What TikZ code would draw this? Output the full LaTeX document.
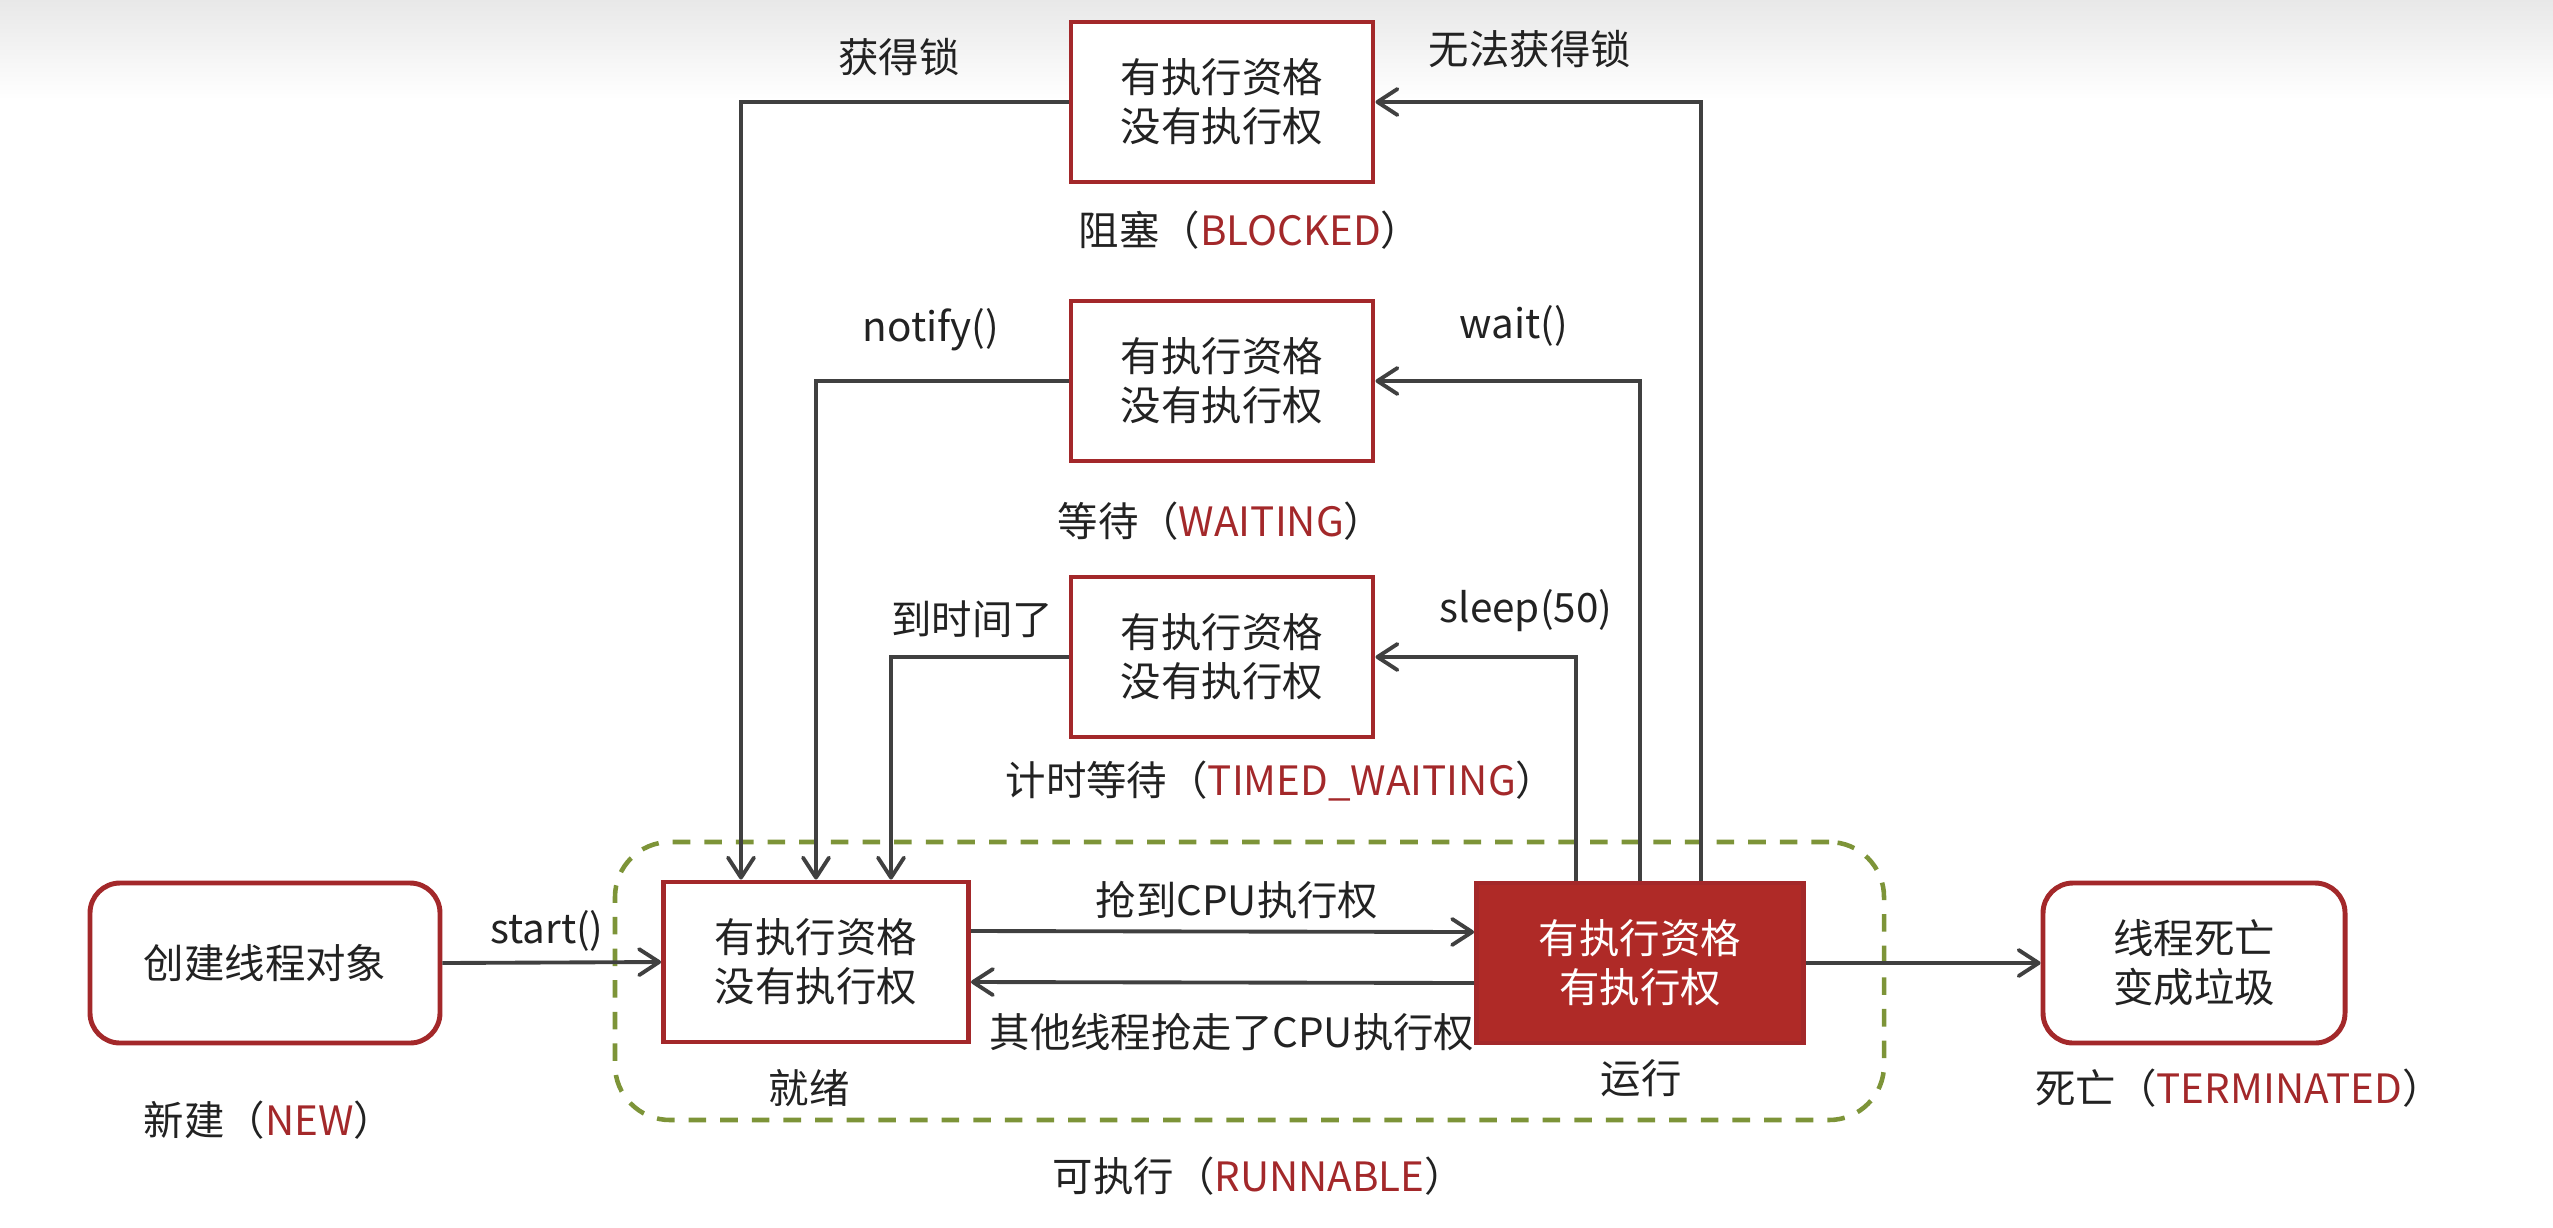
\documentclass[tikz,border=0pt]{standalone}
\usepackage{fontspec}
\setmainfont{Noto Sans CJK SC}
\usepackage{tikz}
\usetikzlibrary{positioning,arrows.meta,calc}
\definecolor{ink}{HTML}{404040}
\definecolor{brick}{HTML}{A3282A}
\definecolor{brickfill}{HTML}{AF2A27}
\definecolor{olive}{HTML}{7D9438}
\definecolor{textgray}{HTML}{222222}

\begin{document}
\begin{tikzpicture}[font=\fontsize{11.5}{14}\selectfont, text=textgray,
  frame/.style={draw=olive, dashed, dash pattern=on 5pt off 4pt, line width=1.3pt, rounded corners=0.55cm},
  state/.style={draw=brick, line width=1.4pt, minimum width=3.02cm, minimum height=1.6cm, align=center, fill=white, inner sep=2pt},
  endstate/.style={state, rounded corners=0.3cm},
  flow/.style={-{Straight Barb[length=2mm,width=2.6mm,round]}, line width=1.1pt, draw=ink},
  en/.style={text=brick}]
  \useasboundingbox (0,0) rectangle (25.53,-12.27);
  \shade[top color=black!9, bottom color=white] (0,0) rectangle (25.53,-1.0);
  \node[frame, minimum width=12.69cm, minimum height=2.78cm] (runnable) at (12.495,-9.81) {};
  \node[state] (blocked) at (12.22,-1.02) {有执行资格\\没有执行权};
  \node[state] (waiting) at (12.22,-3.81) {有执行资格\\没有执行权};
  \node[state] (timed) at (12.22,-6.57) {有执行资格\\没有执行权};
  \node[state, minimum width=3.05cm] (ready) at (8.16,-9.62) {有执行资格\\没有执行权};
  \node[state, minimum width=3.27cm, fill=brickfill, text=white] (running) at (16.40,-9.63) {有执行资格\\有执行权};
  \node[endstate, minimum width=3.5cm] (new) at (2.65,-9.63) {创建线程对象};
  \node[endstate] (dead) at (21.94,-9.63) {线程死亡\\变成垃圾};
  \node (lockget) at (8.99,-0.57) {获得锁};
  \node (locklost) at (15.30,-0.49) {无法获得锁};
  \node (blockedname) at (12.50,-2.30) {阻塞（{\color{brick}BLOCKED}）};
  \node (notifylabel) at (9.31,-3.30) {notify()};
  \node (waitlabel) at (15.14,-3.26) {wait()};
  \node (waitingname) at (12.21,-5.21) {等待（{\color{brick}WAITING}）};
  \node (timeup) at (9.72,-6.19) {到时间了};
  \node (sleeplabel) at (15.26,-6.11) {sleep(50)};
  \node (timedname) at (12.81,-7.81) {计时等待（{\color{brick}TIMED\_WAITING}）};
  \node (grabcpu) at (12.37,-9.00) {抢到CPU执行权};
  \node (losecpu) at (12.32,-10.32) {其他线程抢走了CPU执行权};
  \node (startlabel) at (5.47,-9.31) {start()};
  \node (readyname) at (8.09,-10.88) {就绪};
  \node (runname) at (16.41,-10.78) {运行};
  \node (newname) at (2.69,-11.20) {新建（{\color{brick}NEW}）};
  \node (deadname) at (22.39,-10.88) {死亡（{\color{brick}TERMINATED}）};
  \node (runnablename) at (12.59,-11.76) {可执行（{\color{brick}RUNNABLE}）};
  \draw[flow] (blocked.west) -| ([xshift=-0.75cm]ready.north);
  \draw[flow] (waiting.west) -| (ready.north);
  \draw[flow] (timed.west) -| ([xshift=0.75cm]ready.north);
  \draw[flow] ([xshift=-0.64cm]running.north) |- (timed.east);
  \draw[flow] (running.north) |- (waiting.east);
  \draw[flow] ([xshift=0.61cm]running.north) |- (blocked.east);
  \draw[flow] ([yshift=0.31cm]ready.east) -- ([yshift=0.31cm]running.west);
  \draw[flow] ([yshift=-0.2cm]running.west) -- ([yshift=-0.2cm]ready.east);
  \draw[flow] (new.east) -- (ready.west);
  \draw[flow] (running.east) -- (dead.west);
\end{tikzpicture}
\end{document}
